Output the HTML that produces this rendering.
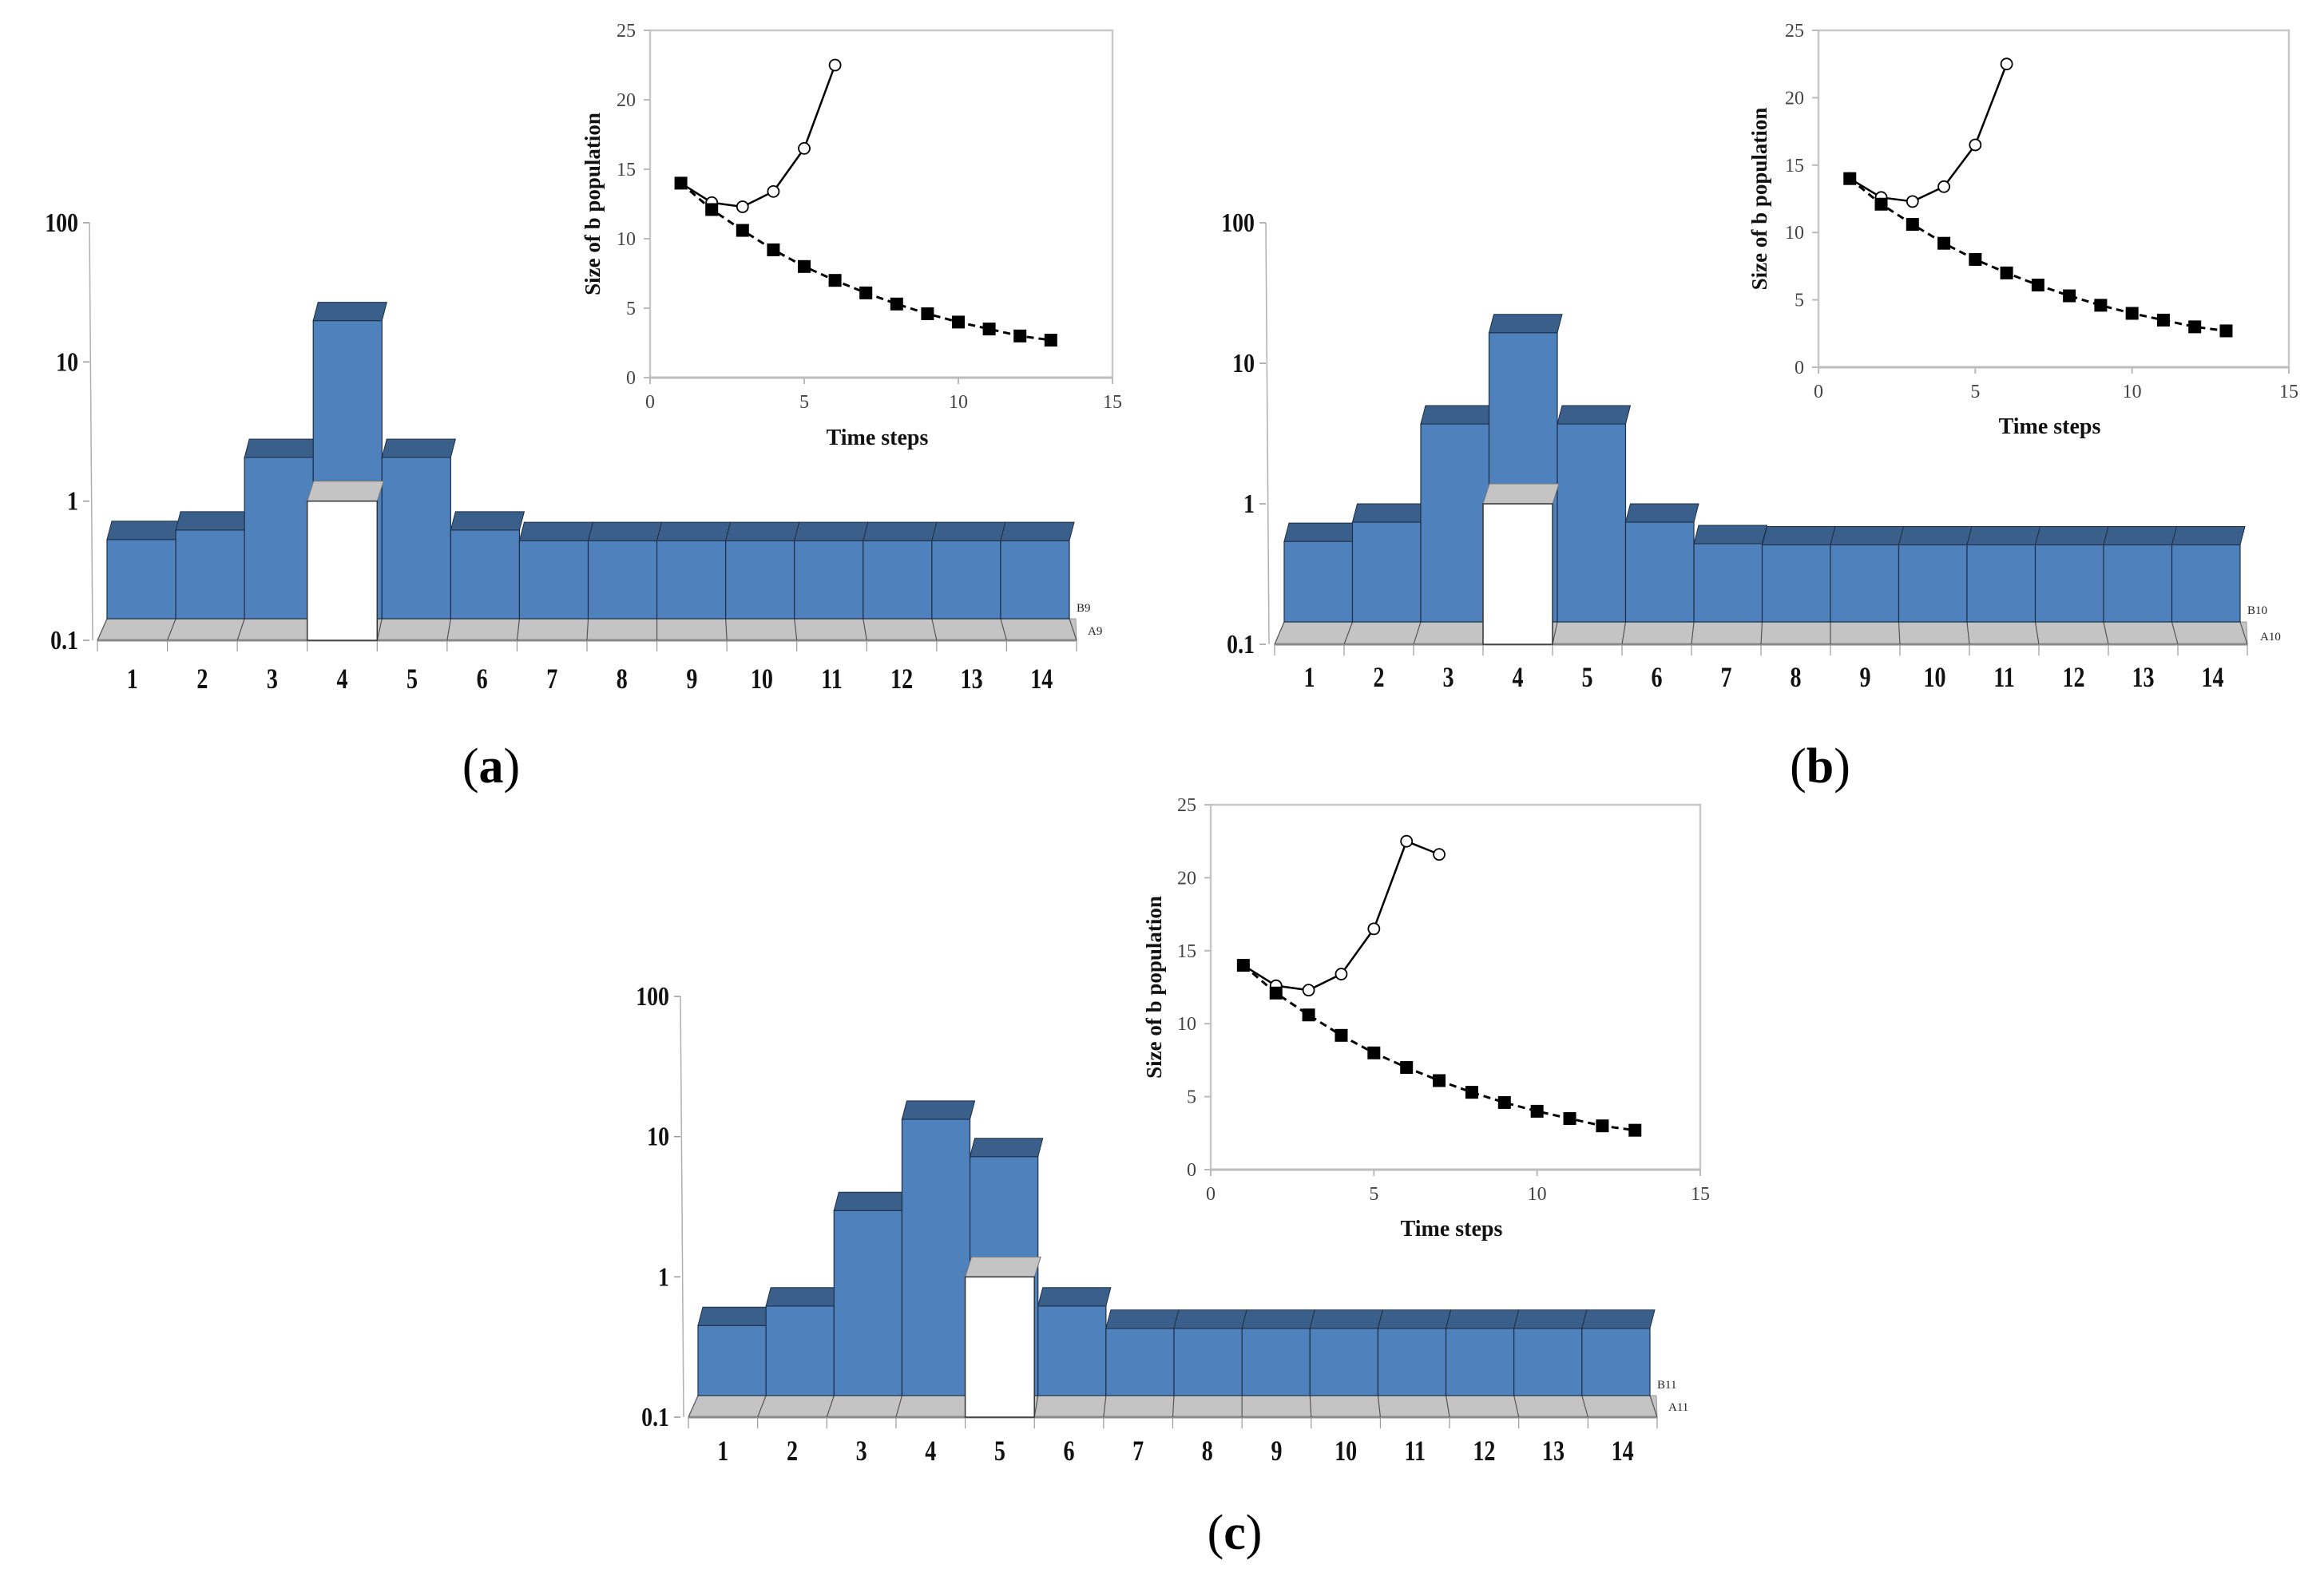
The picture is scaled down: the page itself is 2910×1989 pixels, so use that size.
<!DOCTYPE html>
<html><head><meta charset="utf-8">
<style>
html,body{margin:0;padding:0;background:#fff;}
svg{display:block;}
text{font-family:"Liberation Serif",serif;}
</style></head>
<body>
<svg id="fig" width="2910" height="1989" viewBox="0 0 2910 1989" xmlns="http://www.w3.org/2000/svg"></svg>
<script>
const categories = [1,2,3,4,5,6,7,8,9,10,11,12,13,14];
const logTicks = [0.1,1,10,100];
const logTickLabels = ["0.1","1","10","100"];
const barsB_a = [0.53,0.62,2.06,19.8,2.06,0.62,0.52,0.52,0.52,0.52,0.52,0.52,0.52,0.52];
const barsA_a = [0.1,0.1,0.1,1,0.1,0.1,0.1,0.1,0.1,0.1,0.1,0.1,0.1,0.1];
const barsB_b = [0.54,0.74,3.7,16.5,3.7,0.74,0.52,0.51,0.51,0.51,0.51,0.51,0.51,0.51];
const barsA_b = [0.1,0.1,0.1,1,0.1,0.1,0.1,0.1,0.1,0.1,0.1,0.1,0.1,0.1];
const barsB_c = [0.45,0.62,2.97,13.3,7.2,0.62,0.43,0.43,0.43,0.43,0.43,0.43,0.43,0.43];
const barsA_c = [0.1,0.1,0.1,0.1,1,0.1,0.1,0.1,0.1,0.1,0.1,0.1,0.1,0.1];
const timeSolid_ab = [1,2,3,4,5,6];
const valSolid_ab = [14,12.6,12.3,13.4,16.5,22.5];
const timeSolid_c = [1,2,3,4,5,6,7];
const valSolid_c = [14,12.6,12.3,13.4,16.5,22.5,21.6];
const timeDashed = [1,2,3,4,5,6,7,8,9,10,11,12,13];
const valDashed = [14,12.1,10.6,9.2,8.0,7.0,6.1,5.3,4.6,4.0,3.5,3.0,2.7];
const insetYTicks = [0,5,10,15,20,25];
const insetXTicks = [0,5,10,15];

const NS="http://www.w3.org/2000/svg";
const svg=document.getElementById('fig');
function mk(tag,attrs,parent,txt){const e=document.createElementNS(NS,tag);for(const k in attrs)e.setAttribute(k,attrs[k]);if(txt!==undefined)e.textContent=txt;(parent||svg).appendChild(e);return e;}

function barPanel(p){
  const g=mk('g',{});
  
  
  const dec=(p.y01-p.y100)/3;
  const yS=v=>p.y01-(Math.log10(v)+1)*dec;
  const n=categories.length;
  const bw=(p.x1-p.x0)/n;
  const bx=i=>p.x0+i*bw;
  const fx=i=>(p.x0-12)+i*((p.x1+9)-(p.x0-12))/n;
  const ax=mk('line',{x1:p.ax,y1:p.y100,x2:p.ax+4,y2:p.y01,stroke:'#b0b0b0','stroke-width':1.5},g);
  
  logTicks.forEach((t,k)=>{
    const y=yS(t);
    mk('line',{x1:p.ax-8,y1:y,x2:p.ax,y2:y,stroke:'#999','stroke-width':1.5},g);
    const tx=mk('text',{transform:`translate(${p.ax-14},${y+11}) scale(0.82,1)`,'text-anchor':'end','font-size':34,'font-weight':'bold',fill:'#111'},g,logTickLabels[k]);
    
  });
  const fl=mk('polygon',{points:`${fx(0)},${p.y01} ${fx(n)},${p.y01} ${bx(n)+8},${p.fb} ${bx(0)},${p.fb}`,fill:'#c4c4c4',stroke:'#9a9a9a','stroke-width':1},g);
  
  mk('line',{x1:fx(0),y1:p.y01,x2:fx(n),y2:p.y01,stroke:'#8a8a8a','stroke-width':3},g);
  for(let i=0;i<=n;i++){
    mk('line',{x1:bx(i),y1:p.fb,x2:fx(i),y2:p.y01,stroke:'#555','stroke-width':1.2},g);
    mk('line',{x1:fx(i),y1:p.y01,x2:fx(i),y2:p.y01+14,stroke:'#999','stroke-width':1.2},g);
  }
  p.B.forEach((v,i)=>{
    const y=yS(v);
    const f=mk('rect',{x:bx(i),y:y,width:bw,height:p.fb-y,fill:'#4f81bd',stroke:'#1d2f45','stroke-width':1.2},g);
    
    const t=mk('polygon',{points:`${bx(i)},${y} ${bx(i+1)},${y} ${bx(i+1)+6},${y-23} ${bx(i)+6},${y-23}`,fill:'#3a5f8b',stroke:'#1d2f45','stroke-width':1},g);
    
  });
  p.A.forEach((v,i)=>{
    if(v<=0.1)return;
    const y=yS(v);
    const t=mk('polygon',{points:`${fx(i)},${y} ${fx(i+1)},${y} ${fx(i+1)+8},${y-25} ${fx(i)+8},${y-25}`,fill:'#c4c4c4',stroke:'#777','stroke-width':1},g);
    
    const f=mk('rect',{x:fx(i),y:y,width:fx(i+1)-fx(i),height:p.y01-y,fill:'#ffffff',stroke:'#333','stroke-width':1.5},g);
    
  });
  categories.forEach((c,i)=>{
    const x=(fx(i)+fx(i+1))/2;
    const t=mk('text',{transform:`translate(${x},${p.ly+12}) scale(0.78,1)`,'text-anchor':'middle','font-size':36,'font-weight':'bold',fill:'#111'},g,String(c));
    
  });
  const lb=mk('text',{x:p.bl[0],y:p.bl[1]+5,'font-size':15,fill:'#222'},g,p.bname);
  
  const la=mk('text',{x:p.al[0],y:p.al[1]+5,'font-size':15,fill:'#222'},g,p.aname);
  
  const cap=mk('text',{x:p.cap[0],y:p.cap[1]+20,'text-anchor':'middle','font-size':62,fill:'#000'},g);
  
  mk('tspan',{},cap,'(');mk('tspan',{'font-weight':'bold'},cap,p.id);mk('tspan',{},cap,')');
}

function inset(p){
  const g=mk('g',{});
  
  
  const xs=v=>p.L+(v/15)*(p.R-p.L);
  const ys=v=>p.B-(v/25)*(p.B-p.T);
  const fr=mk('rect',{x:p.L,y:p.T,width:p.R-p.L,height:p.B-p.T,fill:'#fff',stroke:'#c8c8c8','stroke-width':2.5},g);
  
  mk('line',{x1:p.L,y1:p.B,x2:p.R,y2:p.B,stroke:'#bdbdbd','stroke-width':3},g);
  insetYTicks.forEach(t=>{
    mk('line',{x1:p.L-8,y1:ys(t),x2:p.L,y2:ys(t),stroke:'#bbb','stroke-width':2},g);
    const tx=mk('text',{x:p.L-18,y:ys(t)+8,'text-anchor':'end','font-size':24,fill:'#444'},g,String(t));
    
  });
  insetXTicks.forEach(t=>{
    mk('line',{x1:xs(t),y1:p.B,x2:xs(t),y2:p.B+8,stroke:'#bbb','stroke-width':2},g);
    const tx=mk('text',{x:xs(t),y:p.B+38,'text-anchor':'middle','font-size':24,fill:'#444'},g,String(t));
    
  });
  const yt=mk('text',{transform:`translate(${p.yt+9},${(p.T+p.B)/2}) rotate(-90)`,'text-anchor':'middle','font-size':27,'font-weight':'bold',fill:'#111'},g,'Size of b population');
  
  const xt=mk('text',{x:(p.L+p.R)/2-5,y:p.xt+9,'text-anchor':'middle','font-size':28,'font-weight':'bold',fill:'#111'},g,'Time steps');
  
  // solid series (drawn first so squares sit on top)
  const sp=p.st.map((t,i)=>xs(t)+','+ys(p.sv[i])).join(' ');
  const sl=mk('polyline',{points:sp,fill:'none',stroke:'#000','stroke-width':2.5},g);
  
  p.st.forEach((t,i)=>{
    const c=mk('circle',{cx:xs(t),cy:ys(p.sv[i]),r:7,fill:'#fff',stroke:'#000','stroke-width':1.8},g);
    
  });
  // dashed series
  const dp=timeDashed.map((t,i)=>xs(t)+','+ys(valDashed[i])).join(' ');
  const dl=mk('polyline',{points:dp,fill:'none',stroke:'#000','stroke-width':3,'stroke-dasharray':'9,6'},g);
  
  timeDashed.forEach((t,i)=>{
    const s=mk('rect',{x:xs(t)-8,y:ys(valDashed[i])-8,width:16,height:16,fill:'#000'},g);
    
  });
}

barPanel({id:'a',ax:112,y100:279,y01:802,x0:134,x1:1339,fb:775,ly:850,B:barsB_a,A:barsA_a,bname:'B9',aname:'A9',bl:[1348,761],al:[1362,790],cap:[615,960]});
barPanel({id:'b',ax:1585,y100:279,y01:807,x0:1608,x1:2805,fb:779,ly:848,B:barsB_b,A:barsA_b,bname:'B10',aname:'A10',bl:[2814,764],al:[2830,797],cap:[2279,960]});
barPanel({id:'c',ax:852,y100:1248,y01:1775,x0:874,x1:2066,fb:1748,ly:1817,B:barsB_c,A:barsA_c,bname:'B11',aname:'A11',bl:[2075,1734],al:[2089,1762],cap:[1546,1920]});
inset({id:'a',L:814,R:1393,T:38,B:473,yt:742,xt:548,st:timeSolid_ab,sv:valSolid_ab});
inset({id:'b',L:2277,R:2866,T:38,B:460,yt:2203,xt:534,st:timeSolid_ab,sv:valSolid_ab});
inset({id:'c',L:1516,R:2129,T:1008,B:1465,yt:1445,xt:1539,st:timeSolid_c,sv:valSolid_c});
</script>
</body></html>
